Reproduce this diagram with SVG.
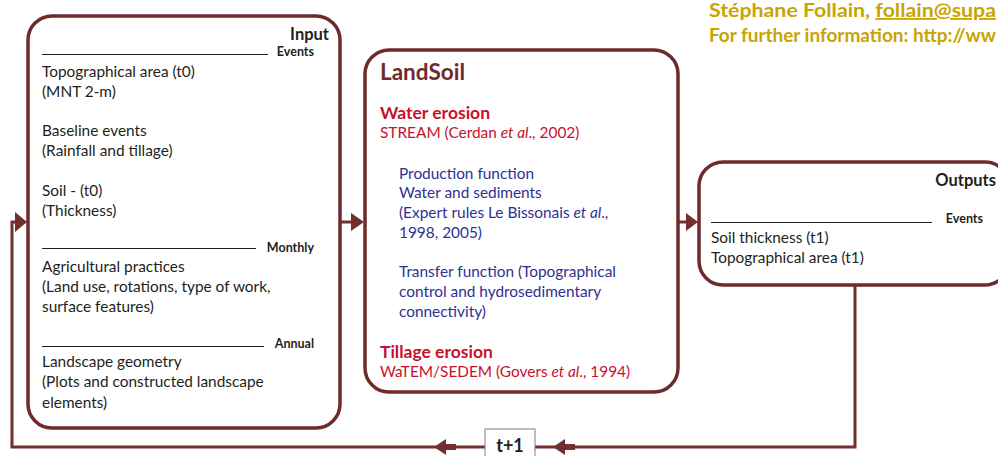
<svg xmlns="http://www.w3.org/2000/svg" width="998" height="456" viewBox="0 0 998 456">
<defs>
<style>
text{font-family:Lato,"Open Sans","Liberation Sans",sans-serif;font-size:15.4px;fill:#231f20}
.box{fill:#fff;stroke:#6f2a2c;stroke-width:3.5}
.hd{font-weight:bold;font-size:16.5px}
.sm{font-weight:bold;font-size:12.5px}
.rule{stroke:#231f20;stroke-width:1}
.red{fill:#c8102e}
.redb{fill:#c8102e;font-weight:bold;font-size:17.5px}
.blue{fill:#2e3192}
.gold{fill:#c9a400;font-weight:bold;font-size:18px}
.conn{fill:none;stroke:#732f2f;stroke-width:3}
.head{fill:#732f2f}
</style>
</defs>
<g id="header">
<text class="gold" x="709" y="17" textLength="287" lengthAdjust="spacingAndGlyphs">Stéphane Follain, <tspan text-decoration="underline">follain@supa</tspan></text>
<text class="gold" x="709" y="42" textLength="287" lengthAdjust="spacingAndGlyphs">For further information: http://ww</text>
</g>
<g id="connectors">
<line class="conn" x1="340" y1="222" x2="352" y2="222"/>
<polygon class="head" points="351,213 364,222 351,231"/>
<line class="conn" x1="678" y1="222" x2="687" y2="222"/>
<polygon class="head" points="686,213 698,222 686,231"/>
<polyline class="conn" points="855,285 855,447 12,447 12,222 16,222"/>
<polygon class="head" points="15,212 27,222 15,232"/>
<polygon class="head" points="434,447 446,439 446,444 456,444 456,450 446,450 446,455"/>
<polygon class="head" points="553,447 565,439 565,444 575,444 575,450 565,450 565,455"/>
</g>
<g id="input">
<rect class="box" x="28" y="16" width="312" height="412" rx="24"/>
<text class="hd" x="329" y="40" text-anchor="end">Input</text>
<line class="rule" x1="42" y1="54.5" x2="268" y2="54.5"/>
<text class="sm" x="314" y="56" text-anchor="end">Events</text>
<text x="42" y="77">Topographical area (t0)</text>
<text x="42" y="97">(MNT 2-m)</text>
<text x="42" y="136">Baseline events</text>
<text x="42" y="156">(Rainfall and tillage)</text>
<text x="42" y="196">Soil - (t0)</text>
<text x="42" y="216">(Thickness)</text>
<line class="rule" x1="42" y1="248.5" x2="256" y2="248.5"/>
<text class="sm" x="314" y="252" text-anchor="end">Monthly</text>
<text x="42" y="272">Agricultural practices</text>
<text x="42" y="292">(Land use, rotations, type of work,</text>
<text x="42" y="312">surface features)</text>
<line class="rule" x1="42" y1="346.5" x2="264" y2="346.5"/>
<text class="sm" x="314" y="348" text-anchor="end">Annual</text>
<text x="42" y="367">Landscape geometry</text>
<text x="42" y="387">(Plots and constructed landscape</text>
<text x="42" y="408">elements)</text>
</g>
<g id="landsoil">
<rect class="box" x="365" y="50" width="313" height="342" rx="24"/>
<text x="380" y="80" style="font-weight:bold;font-size:22.5px;fill:#6f2a2c">LandSoil</text>
<text class="redb" x="380" y="119">Water erosion</text>
<text class="red" x="380" y="138">STREAM (Cerdan <tspan font-style="italic">et al</tspan>., 2002)</text>
<text class="blue" x="399" y="179">Production function</text>
<text class="blue" x="399" y="198">Water and sediments</text>
<text class="blue" x="399" y="218">(Expert rules Le Bissonais <tspan font-style="italic">et al</tspan>.,</text>
<text class="blue" x="399" y="238">1998, 2005)</text>
<text class="blue" x="399" y="277">Transfer function (Topographical</text>
<text class="blue" x="399" y="297">control and hydrosedimentary</text>
<text class="blue" x="399" y="317">connectivity)</text>
<text class="redb" x="380" y="358">Tillage erosion</text>
<text class="red" x="380" y="377">WaTEM/SEDEM (Govers <tspan font-style="italic">et al</tspan>., 1994)</text>
</g>
<g id="outputs">
<rect class="box" x="699" y="162" width="310" height="123" rx="24"/>
<text class="hd" x="996" y="186" text-anchor="end">Outputs</text>
<line class="rule" x1="711" y1="222.5" x2="932" y2="222.5"/>
<text class="sm" x="983" y="223" text-anchor="end">Events</text>
<text x="711" y="243">Soil thickness (t1)</text>
<text x="711" y="263">Topographical area  (t1)</text>
</g>
<g id="tplus1">
<rect x="485" y="429" width="50" height="32" fill="#fff" stroke="#808080" stroke-width="1"/>
<text x="510" y="452" text-anchor="middle" style="font-weight:bold;font-size:18px">t+1</text>
</g>
</svg>
